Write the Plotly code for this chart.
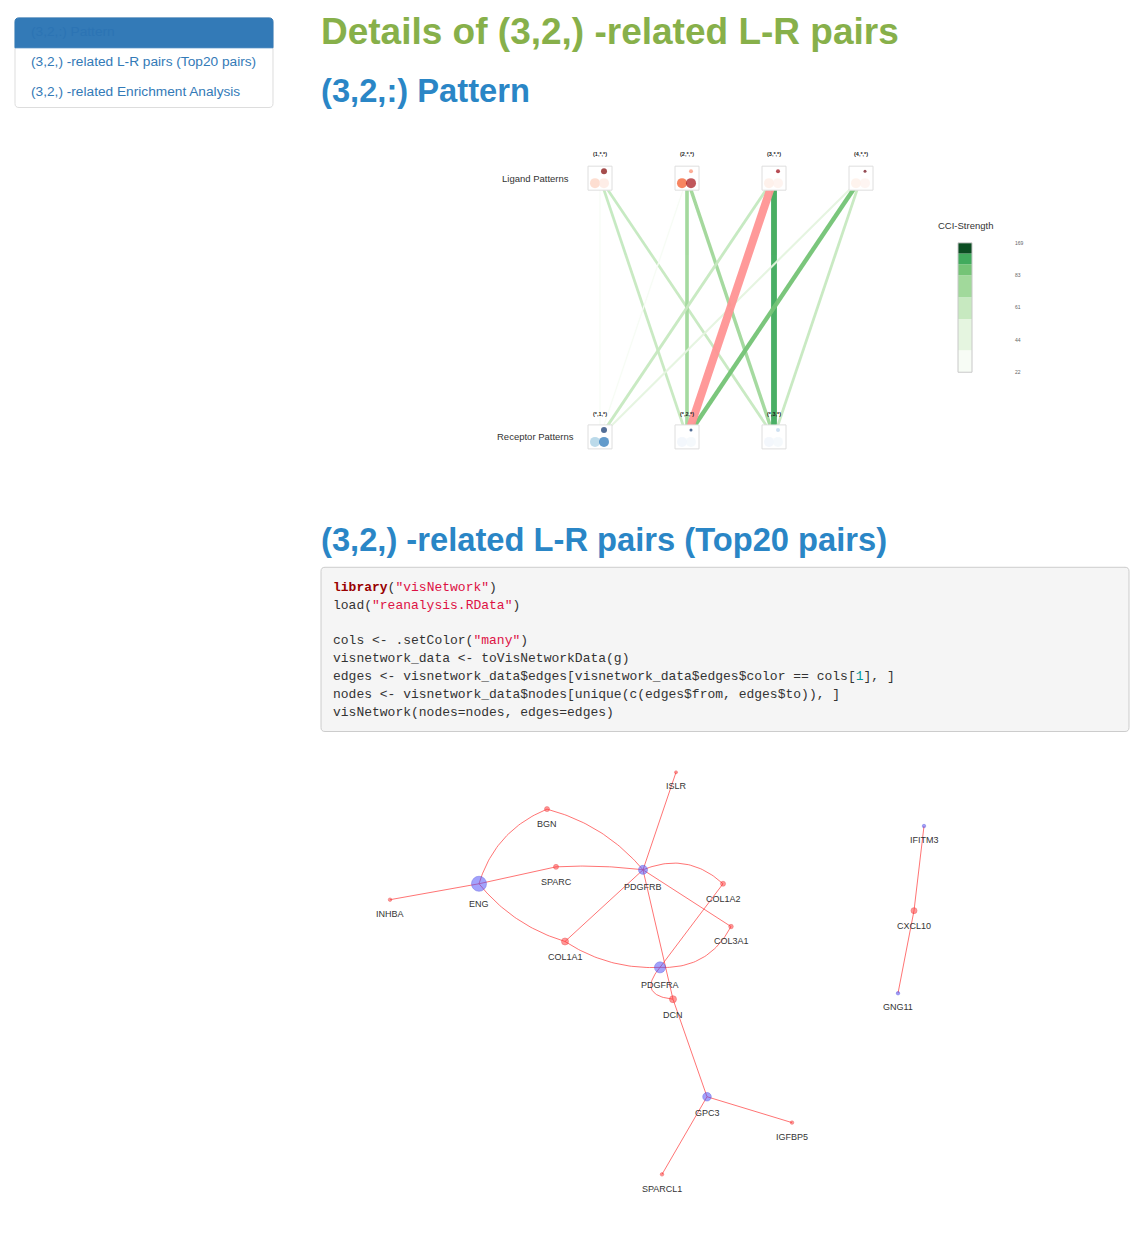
import numpy as np
import plotly.graph_objects as go

W, H = 1140, 1254

# ---------------- (3,2,:) pattern panel ----------------
ligand_patterns = ["(1,*,*)", "(2,*,*)", "(3,*,*)", "(4,*,*)"]
receptor_patterns = ["(*,1,*)", "(*,2,*)", "(*,3,*)"]
pair_ligand = [1, 1, 1, 2, 2, 2, 3, 3, 3, 4, 4, 4]
pair_receptor = [1, 2, 3, 1, 2, 3, 1, 2, 3, 1, 2, 3]
pair_strength = [24, 58, 57, 28, 76, 72, 60, 169, 122, 44, 92, 58]
focus_pair = (3, 2)

cci_ticks = [22, 44, 61, 83, 169]
cci_breaks = [22, 37, 55, 68, 83, 112, 141, 169]

# ---------------- L-R network (top 20 pairs) ----------------
genes = ["ISLR", "BGN", "ENG", "SPARC", "PDGFRB", "COL1A2", "COL3A1", "INHBA",
         "COL1A1", "PDGFRA", "DCN", "GPC3", "IGFBP5", "SPARCL1", "IFITM3",
         "CXCL10", "GNG11"]
gene_type = ["L", "L", "R", "L", "R", "L", "L", "L", "L", "R", "L", "R", "L", "L", "R", "L", "R"]
gene_x = [16, -113, -181, -104, -17, 63, 71, -270, -95, 0, 13, 47, 132, 2, 264, 254, 238]
gene_y = [-207, -170, -95, -112, -109, -95, -52, -79, -37, -11, 21, 119, 145, 197, -153, -68, 15]
gene_value = [3, 5, 15, 5, 9, 5, 4.5, 3.5, 7, 11, 7, 8.5, 3.5, 3.5, 3.5, 6, 3.5]
lr_ligand = ["INHBA", "BGN", "BGN", "SPARC", "SPARC", "COL1A1", "COL1A1", "COL1A1",
             "ISLR", "COL1A2", "COL3A1", "DCN", "COL1A2", "COL3A1", "DCN", "DCN",
             "IGFBP5", "SPARCL1", "CXCL10", "CXCL10"]
lr_receptor = ["ENG", "ENG", "PDGFRB", "ENG", "PDGFRB", "ENG", "PDGFRB", "PDGFRA",
               "PDGFRB", "PDGFRB", "PDGFRB", "PDGFRB", "PDGFRA", "PDGFRA", "PDGFRA", "GPC3",
               "GPC3", "GPC3", "IFITM3", "GNG11"]

# ---------------- styling ----------------
GREEN_H = "#87b04a"
BLUE_H = "#2a86c6"
LINK = "#337ab7"
FONT = "Liberation Sans"
MONO = "Liberation Mono"
cci_colors = ["#f7fcf5", "#e5f5e0", "#c7e9c0", "#a1d99b", "#74c476", "#41ab5d", "#0b4d22"]
focus_color = "#ff9494"
# thumbnail look: (top blob, body left, body right, top size)
thumb_style = {
    "(1,*,*)": ("#7f0000", "#fcd0be", "#fde6dd", 6),
    "(2,*,*)": ("#fb8a6a", "#f4511e", "#a50f15", 4),
    "(3,*,*)": ("#99000d", "#fdebe3", "#fdf0ea", 4),
    "(4,*,*)": ("#67000d", "#fdeee6", "#fdf1ec", 3),
    "(*,1,*)": ("#08306b", "#9ecae1", "#2171b5", 6),
    "(*,2,*)": ("#08306b", "#eef4fb", "#f1f6fb", 3),
    "(*,3,*)": ("#b9d3ea", "#eef4fb", "#f1f6fb", 4),
}
edge_bend = {("BGN", "ENG"): -12, ("BGN", "PDGFRB"): 9, ("SPARC", "PDGFRB"): 2,
             ("COL1A1", "ENG"): 8, ("COL1A1", "PDGFRA"): -8, ("COL1A2", "PDGFRB"): -13,
             ("COL3A1", "PDGFRA"): 13, ("DCN", "PDGFRA"): 16}


def dom_x(a, b):
    return [a / W, b / W]


def dom_y(top, bottom):
    return [1 - bottom / H, 1 - top / H]


def rounded_rect(x0, y0, x1, y1, r, rb=None):
    rb = r if rb is None else rb
    X = lambda v: f"{v / W:.5f}"
    Y = lambda v: f"{1 - v / H:.5f}"
    return (f"M {X(x0 + r)},{Y(y0)} L {X(x1 - r)},{Y(y0)} Q {X(x1)},{Y(y0)} {X(x1)},{Y(y0 + r)} "
            f"L {X(x1)},{Y(y1 - rb)} Q {X(x1)},{Y(y1)} {X(x1 - rb)},{Y(y1)} "
            f"L {X(x0 + rb)},{Y(y1)} Q {X(x0)},{Y(y1)} {X(x0)},{Y(y1 - rb)} "
            f"L {X(x0)},{Y(y0 + r)} Q {X(x0)},{Y(y0)} {X(x0 + r)},{Y(y0)} Z")


fig = go.Figure()

# pattern panel geometry: pattern i at px 600 + 87*(i-1); ligand row px 176, receptor row px 436
PX_UNIT, PY_UNIT = 87.0, 260.0
pat_xr = [1 + (480 - 600) / PX_UNIT, 1 + (900 - 600) / PX_UNIT]
pat_yr = [(436 - 470) / PY_UNIT, (436 - 140) / PY_UNIT]

# edges between ligand and receptor patterns
order = sorted(range(len(pair_strength)),
               key=lambda k: (pair_ligand[k], pair_receptor[k]) == focus_pair)
for k in order:
    s = pair_strength[k]
    if (pair_ligand[k], pair_receptor[k]) == focus_pair:
        col = focus_color
    else:
        b = int(np.clip(np.searchsorted(cci_breaks, s, side="right") - 1, 0, len(cci_colors) - 1))
        col = cci_colors[b]
    fig.add_trace(go.Scatter(x=[pair_ligand[k], pair_receptor[k]], y=[1, 0], mode="lines",
                             line=dict(color=col, width=s / 21), opacity=0.95,
                             hoverinfo="skip", xaxis="x", yaxis="y"))

# thumbnails
for row_y, pats in ((1, ligand_patterns), (0, receptor_patterns)):
    xs = list(range(1, len(pats) + 1))
    fig.add_trace(go.Scatter(x=xs, y=[row_y] * len(xs), mode="markers",
                             marker=dict(symbol="square", size=24, color="white",
                                         line=dict(color="#dedede", width=1)),
                             hoverinfo="skip", xaxis="x", yaxis="y"))
    for i, p in zip(xs, pats):
        top, left, right, tsize = thumb_style[p]
        fig.add_trace(go.Scatter(
            x=[i - 5 / PX_UNIT, i + 4 / PX_UNIT, i + 4 / PX_UNIT],
            y=[row_y - 5 / PY_UNIT, row_y - 5 / PY_UNIT, row_y + 7 / PY_UNIT],
            mode="markers",
            marker=dict(size=[10, 10, tsize], color=[left, right, top], line=dict(width=0)),
            hoverinfo="skip", xaxis="x", yaxis="y"))

# colour legend (CCI-Strength)
tick_pos = np.arange(len(cci_ticks))
break_pos = np.interp(cci_breaks, cci_ticks, tick_pos)
fig.add_trace(go.Bar(x=[0] * len(cci_colors), y=np.diff(break_pos), base=break_pos[:-1],
                     width=1, marker=dict(color=cci_colors, line=dict(width=0)),
                     hoverinfo="skip", xaxis="x2", yaxis="y2"))

# network edges
pos = {g: (gx, gy) for g, gx, gy in zip(genes, gene_x, gene_y)}
ex, ey = [], []
t = np.linspace(0, 1, 40)
for a, b in zip(lr_ligand, lr_receptor):
    p0, p1 = np.array(pos[a], float), np.array(pos[b], float)
    d = p1 - p0
    n = np.array([d[1], -d[0]]) / np.hypot(*d)
    c = (p0 + p1) / 2 + 2 * edge_bend.get((a, b), 0) * n
    pts = ((1 - t) ** 2)[:, None] * p0 + (2 * (1 - t) * t)[:, None] * c + (t ** 2)[:, None] * p1
    ex += list(pts[:, 0]) + [None]
    ey += list(pts[:, 1]) + [None]
fig.add_trace(go.Scatter(x=ex, y=ey, mode="lines", line=dict(color="rgba(255,70,70,0.75)", width=1),
                         hoverinfo="skip", xaxis="x3", yaxis="y3"))

# network nodes
for kind, fill, edge in (("L", "rgba(255,60,60,0.75)", "rgba(230,40,40,0.9)"),
                         ("R", "rgba(80,80,250,0.75)", "rgba(60,60,220,0.9)")):
    idx = [i for i, k in enumerate(gene_type) if k == kind]
    fig.add_trace(go.Scatter(
        x=[gene_x[i] for i in idx], y=[gene_y[i] for i in idx],
        text=[genes[i] for i in idx], mode="markers",
        marker=dict(size=[gene_value[i] for i in idx], color=fill, line=dict(color=edge, width=0.6)),
        hoverinfo="text", xaxis="x3", yaxis="y3"))

hidden = dict(visible=False, fixedrange=True)
fig.update_layout(
    width=W, height=H, margin=dict(l=0, r=0, t=0, b=0),
    paper_bgcolor="white", plot_bgcolor="rgba(0,0,0,0)", showlegend=False,
    font=dict(family=FONT, color="#333333"),
    xaxis=dict(domain=dom_x(480, 900), range=pat_xr, **hidden),
    yaxis=dict(domain=dom_y(140, 470), range=pat_yr, **hidden),
    xaxis2=dict(domain=dom_x(958, 972), range=[-0.5, 0.5], **hidden),
    yaxis2=dict(domain=dom_y(241, 371), range=[0, len(cci_ticks) - 1], side="right", anchor="x2",
                tickvals=list(tick_pos), ticktext=[str(v) for v in cci_ticks],
                ticks="", showgrid=False, zeroline=False, showline=False,
                ticklabelstandoff=42, tickfont=dict(size=5, color="#666666"), fixedrange=True),
    xaxis3=dict(domain=dom_x(340, 1000), range=[-320, 340], **hidden),
    yaxis3=dict(domain=dom_y(750, 1210), range=[230, -230], **hidden),
    barmode="overlay",
)

# colour legend frame
fig.add_shape(type="rect", xref="x2 domain", yref="y2 domain", x0=0, x1=1, y0=0, y1=1,
              line=dict(color="#c8c8c8", width=1), layer="above")

# sidebar
fig.add_shape(type="path", path=rounded_rect(15, 15, 273, 105, 4), xref="paper", yref="paper",
              fillcolor="white", line=dict(color="#dddddd", width=1), layer="below")
fig.add_shape(type="path", path=rounded_rect(15, 15, 273, 45, 4, rb=0), xref="paper", yref="paper",
              fillcolor=LINK, line=dict(color=LINK, width=1), layer="below")
# code block
fig.add_shape(type="path", path=rounded_rect(321, 567, 1129, 732, 4), xref="paper", yref="paper",
              fillcolor="#f5f5f5", line=dict(color="#cccccc", width=1), layer="below")

ann = []


def text(x, y, s, size, color, family=FONT, xanchor="left", xref="paper", yref="paper", **kw):
    if xref == "paper":
        x = x / W
    if yref == "paper":
        y = 1 - y / H
    ann.append(dict(x=x, y=y, xref=xref, yref=yref, text=s, showarrow=False, xanchor=xanchor,
                    yanchor="middle", font=dict(size=size, color=color, family=family), **kw))


text(29, 29, "(3,2,:) Pattern", 13.7, "#2c74b4")
text(29, 59, "(3,2,) -related L-R pairs (Top20 pairs)", 13.7, LINK)
text(29, 89, "(3,2,) -related Enrichment Analysis", 13.7, LINK)

text(319, 29, "<b>Details of (3,2,) -related L-R pairs</b>", 37, GREEN_H)
text(319, 88, "<b>(3,2,:) Pattern</b>", 32.7, BLUE_H)
text(319, 539, "<b>(3,2,) -related L-R pairs (Top20 pairs)</b>", 32.7, BLUE_H)

STR = "#dd1144"
code_lines = [
    "<span style='color:#990000'><b>library</b></span>(<span style='color:%s'>\"visNetwork\"</span>)" % STR,
    "load(<span style='color:%s'>\"reanalysis.RData\"</span>)" % STR,
    "",
    "cols &lt;- .setColor(<span style='color:%s'>\"many\"</span>)" % STR,
    "visnetwork_data &lt;- toVisNetworkData(g)",
    "edges &lt;- visnetwork_data$edges[visnetwork_data$edges$color == cols[<span style='color:#009999'>1</span>], ]",
    "nodes &lt;- visnetwork_data$nodes[unique(c(edges$from, edges$to)), ]",
    "visNetwork(nodes=nodes, edges=edges)",
]
for i, line in enumerate(code_lines):
    if line:
        text(331, 587 + 18 * i, line, 13, "#333333", family=MONO)

# pattern panel labels
text(1 + (535 - 600) / PX_UNIT, 1, "Ligand Patterns", 9.5, "#333333", xanchor="center", xref="x", yref="y")
text(1 + (535 - 600) / PX_UNIT, 0, "Receptor Patterns", 9.5, "#333333", xanchor="center", xref="x", yref="y")
for i, p in enumerate(ligand_patterns, start=1):
    text(i, 1 + 24 / PY_UNIT, "<b>" + p + "</b>", 5.5, "#222222", xanchor="center", xref="x", yref="y")
for i, p in enumerate(receptor_patterns, start=1):
    text(i, 23 / PY_UNIT, "<b>" + p + "</b>", 5.5, "#222222", xanchor="center", xref="x", yref="y")
text(965, 224, "CCI-Strength", 9.5, "#333333", xanchor="center")

# network labels sit under each node
for g, gx, gy, v in zip(genes, gene_x, gene_y, gene_value):
    text(gx, gy, g, 9, "#343434", xanchor="center", xref="x3", yref="y3", yshift=-(12.5 + v / 2))

fig.update_layout(annotations=ann)

fig.write_html("out.html", config={"displayModeBar": False},
               post_script="document.body.style.margin='0px';")
